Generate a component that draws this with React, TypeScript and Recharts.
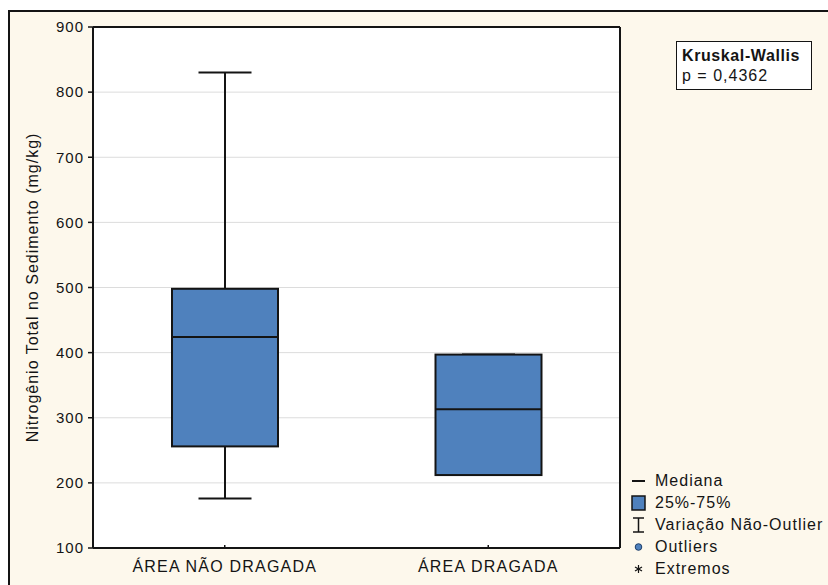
import React from 'react';
import { ComposedChart, Bar, XAxis, YAxis, CartesianGrid, Legend } from 'recharts';

const groups = ['ÁREA NÃO DRAGADA', 'ÁREA DRAGADA'];
const mins = [176, 212];
const q1s = [256, 212];
const medians = [424, 313];
const q3s = [498, 397];
const maxs = [830, 397];

const yTicks = [100, 200, 300, 400, 500, 600, 700, 800, 900];
const yLabel = 'Nitrogênio Total no Sedimento (mg/kg)';
const legendLabels = ['Mediana', '25%-75%', 'Variação Não-Outlier', 'Outliers', 'Extremos'];
const testName = 'Kruskal-Wallis';
const testResult = 'p = 0,4362';

const FONT = '"Liberation Sans", Arial, Helvetica, sans-serif';
const INK = '#141414';
const BOX_BLUE = '#4f81bd';

const data = groups.map((name, i) => ({
  name,
  min: mins[i],
  q1: q1s[i],
  median: medians[i],
  q3: q3s[i],
  max: maxs[i],
}));

// the bar spans min..max; quartiles and median are placed inside that span
const BoxShape = (props: any) => {
  const { x, y, width, height, payload } = props;
  const top = Math.min(y, y + height);
  const bottom = Math.max(y, y + height);
  const span = payload.max - payload.min;
  const toY = (v: number) => (span === 0 ? bottom : bottom - ((v - payload.min) / span) * (bottom - top));
  const cx = x + width / 2;
  const cap = width / 4;
  const yMax = toY(payload.max);
  const yQ3 = toY(payload.q3);
  const yMed = toY(payload.median);
  const yQ1 = toY(payload.q1);
  const yMin = toY(payload.min);
  return (
    <g>
      <line x1={cx} x2={cx} y1={yMax} y2={yQ3} stroke={INK} strokeWidth={2} />
      <line x1={cx} x2={cx} y1={yQ1} y2={yMin} stroke={INK} strokeWidth={2} />
      <line x1={cx - cap} x2={cx + cap} y1={yMax} y2={yMax} stroke={INK} strokeWidth={2} />
      <line x1={cx - cap} x2={cx + cap} y1={yMin} y2={yMin} stroke={INK} strokeWidth={2} />
      <rect x={x} y={yQ3} width={width} height={yQ1 - yQ3} fill={BOX_BLUE} stroke={INK} strokeWidth={2} />
      <line x1={x} x2={x + width} y1={yMed} y2={yMed} stroke={INK} strokeWidth={2} />
    </g>
  );
};

const LegendIcon = ({ index }: { index: number }) => {
  switch (index) {
    case 0:
      return <line x1={2} x2={15} y1={11} y2={11} stroke={INK} strokeWidth={2} />;
    case 1:
      return <rect x={2} y={4} width={13} height={14} fill={BOX_BLUE} stroke={INK} strokeWidth={1.5} />;
    case 2:
      return (
        <g stroke={INK} strokeWidth={1.5}>
          <line x1={3} x2={14} y1={4} y2={4} />
          <line x1={8.5} x2={8.5} y1={4} y2={18} />
          <line x1={3} x2={14} y1={18} y2={18} />
        </g>
      );
    case 3:
      return <circle cx={8.5} cy={11} r={3.3} fill={BOX_BLUE} stroke="#1f3f6a" strokeWidth={1} />;
    default:
      return (
        <g stroke={INK} strokeWidth={1.2}>
          <line x1={8.5} x2={8.5} y1={7} y2={15} />
          <line x1={5} x2={12} y1={9} y2={13} />
          <line x1={5} x2={12} y1={13} y2={9} />
        </g>
      );
  }
};

const BoxLegend = () => (
  <div style={{ fontFamily: FONT, fontSize: 16, letterSpacing: 1, color: INK }}>
    {legendLabels.map((label, i) => (
      <div key={label} style={{ display: 'flex', alignItems: 'center', height: 22, whiteSpace: 'nowrap' }}>
        <svg width={16} height={22} style={{ marginRight: 9, flex: 'none' }}>
          <LegendIcon index={i} />
        </svg>
        <span>{label}</span>
      </div>
    ))}
  </div>
);

const AxisTitle = (props: any) => {
  const { x, y, height } = props.viewBox;
  return (
    <text
      transform={`translate(${x + 5},${y + height / 2}) rotate(-90)`}
      textAnchor="middle"
      fontFamily={FONT}
      fontSize={16}
      letterSpacing={1}
      fill={INK}
    >
      {yLabel}
    </text>
  );
};

export default function App() {
  return (
    <div
      style={{
        position: 'absolute',
        left: 0,
        top: 0,
        width: 828,
        height: 585,
        overflow: 'hidden',
        background: '#ffffff',
      }}
    >
      <div
        style={{
          position: 'absolute',
          left: 8,
          top: 10,
          width: 830,
          height: 590,
          borderLeft: `2px solid ${INK}`,
          borderTop: `2px solid ${INK}`,
          background: '#fdf8ec',
        }}
      />
      <div style={{ position: 'absolute', left: 0, top: 0 }}>
        <ComposedChart
          width={828}
          height={585}
          data={data}
          margin={{ top: 27, right: 208, bottom: 7, left: 33 }}
          barSize={106}
        >
          <CartesianGrid vertical={false} stroke="#dcdcdc" fill="#ffffff" />
          <XAxis
            dataKey="name"
            height={30}
            tickSize={-3}
            tickMargin={16}
            axisLine={{ stroke: INK, strokeWidth: 2 }}
            tickLine={{ stroke: INK, strokeWidth: 1.5 }}
            tick={{ fontFamily: FONT, fontSize: 16, letterSpacing: 1.2, fill: INK }}
          />
          <XAxis
            xAxisId="top"
            dataKey="name"
            orientation="top"
            mirror
            height={10}
            tickSize={3}
            tick={false}
            axisLine={{ stroke: INK, strokeWidth: 2 }}
            tickLine={{ stroke: INK, strokeWidth: 1.5 }}
          />
          <YAxis
            type="number"
            domain={[100, 900]}
            ticks={yTicks}
            width={60}
            tickSize={5}
            tickMargin={4}
            axisLine={{ stroke: INK, strokeWidth: 2 }}
            tickLine={{ stroke: INK, strokeWidth: 1.5 }}
            tick={{ fontFamily: FONT, fontSize: 15, letterSpacing: 1, fill: INK }}
            label={{ content: AxisTitle }}
          />
          <YAxis
            yAxisId="right"
            orientation="right"
            mirror
            type="number"
            domain={[100, 900]}
            ticks={yTicks}
            width={10}
            tickSize={3}
            tick={false}
            axisLine={{ stroke: INK, strokeWidth: 2 }}
            tickLine={{ stroke: INK, strokeWidth: 1.5 }}
          />
          <Bar
            dataKey={(d: any) => [d.min, d.max]}
            shape={BoxShape}
            isAnimationActive={false}
          />
          <Legend
            layout="vertical"
            align="center"
            verticalAlign="middle"
            content={BoxLegend}
            wrapperStyle={{ left: 630, top: 470, width: 210 }}
          />
        </ComposedChart>
      </div>
      <div
        style={{
          position: 'absolute',
          left: 676,
          top: 41,
          width: 136,
          height: 49,
          boxSizing: 'border-box',
          border: `1.5px solid ${INK}`,
          background: '#ffffff',
          padding: '4px 0 0 5px',
          fontFamily: FONT,
          fontSize: 16,
          letterSpacing: 1,
          lineHeight: '20px',
          color: INK,
        }}
      >
        <div style={{ fontWeight: 'bold', letterSpacing: 0.6 }}>{testName}</div>
        <div>{testResult}</div>
      </div>
    </div>
  );
}
